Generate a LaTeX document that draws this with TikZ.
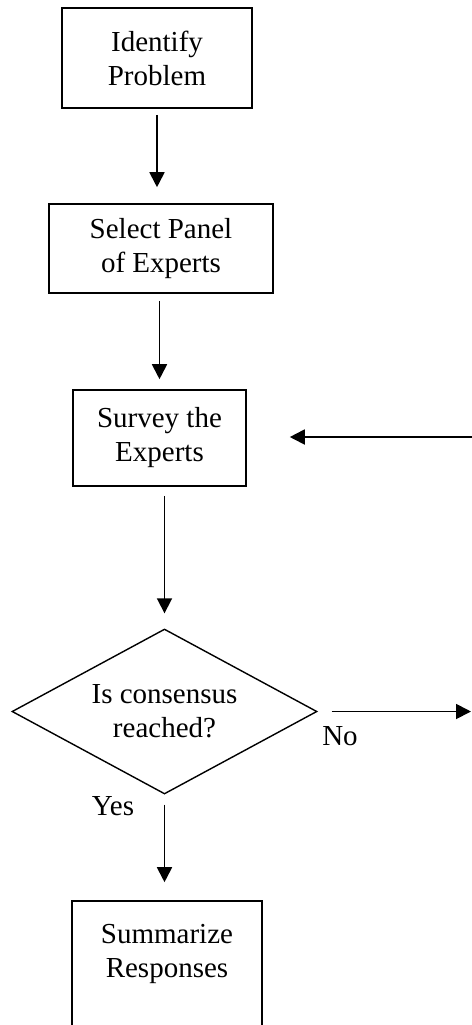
\documentclass[tikz,border=0pt]{standalone}
\usepackage{fontspec}
\setmainfont{Liberation Serif}
\usetikzlibrary{arrows.meta,shapes.geometric}
\begin{document}
\begin{tikzpicture}[x=0.5pt,y=-0.5pt,
  every node/.style={font=\fontsize{14.5}{17}\selectfont},
  box/.style={draw,line width=0.8pt,rectangle,align=center,inner sep=0pt},
  dec/.style={draw,line width=0.7pt,diamond,aspect=1.85,align=center,inner sep=0pt,minimum width=152.5pt,minimum height=82.5pt},
  arr/.style={line width=0.9pt,-{Triangle[length=7.5pt,width=7.5pt]}}]
\useasboundingbox (0,0) rectangle (472,1025);
\node[box,minimum width=95pt,minimum height=50pt] (b1) at (157,58) {Identify\\Problem};
\node[box,minimum width=112pt,minimum height=44.5pt] (b2) at (161,248.5) {Select Panel\\of Experts};
\node[box,minimum width=86.5pt,minimum height=48pt] (b3) at (159.5,438) {Survey the\\Experts};
\node[dec] (d) at (164.5,711.5) {Is consensus\\reached?};
\node[box,minimum width=95pt,minimum height=67pt] (b5) at (167,968) {Summarize\\Responses\\\mbox{}};
\node (no) at (340,736) {No};
\node (yes) at (113,806) {Yes};
\coordinate (rin) at (472,437);
\coordinate (rout) at (471,711.5);
\draw[arr,shorten <=3pt,shorten >=8pt] (b1.south) -- (b1.south |- b2.north);
\draw[arr,shorten <=3.5pt,shorten >=5pt] (b3.north |- b2.south) -- (b3.north);
\draw[arr,shorten <=4.5pt,shorten >=7.5pt] (d.north |- b3.south) -- (d.north);
\draw[arr,shorten <=5pt,shorten >=9pt] (d.south) -- (d.south |- b5.north);
\draw[arr,shorten >=21.5pt] (rin) -- (b3.east |- rin);
\draw[arr,shorten <=7pt] (d.east) -- (rout);
\end{tikzpicture}
\end{document}
